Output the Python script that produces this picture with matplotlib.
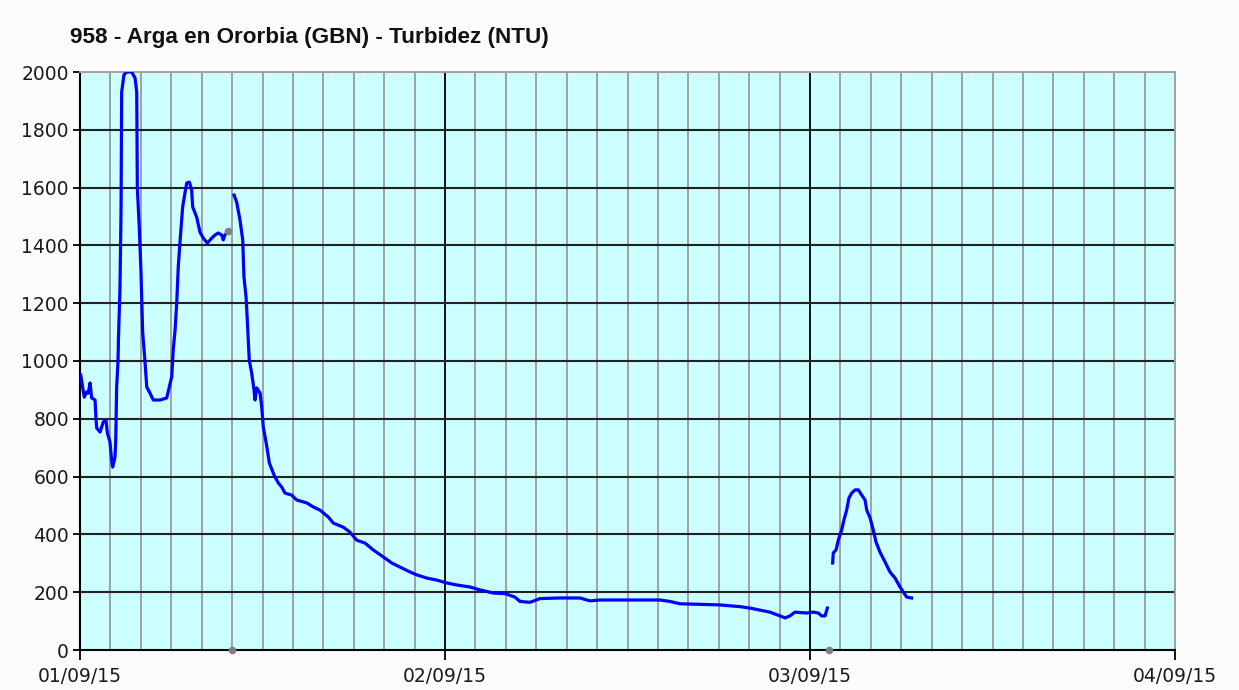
import numpy as np
import pandas as pd
import matplotlib
matplotlib.use("Agg")
import matplotlib.pyplot as plt
import matplotlib.dates as mdates

# Hours after 01/09/15 00:00 and turbidity (NTU).
# The series has gaps, so it is kept as three separate runs.
seg1_hours = [0.05, 0.15, 0.28, 0.44, 0.55, 0.66, 0.77, 0.99, 1.05, 1.10, 1.32,
              1.53, 1.71, 1.80, 1.97, 2.08, 2.15, 2.30, 2.35, 2.41, 2.50, 2.53,
              2.63, 2.70, 2.74, 2.89, 3.07, 3.40, 3.62, 3.73, 3.77, 3.90, 4.01,
              4.12, 4.27, 4.39, 4.60, 4.82, 5.26, 5.70, 5.87, 6.03, 6.13, 6.25,
              6.36, 6.46, 6.57, 6.75, 6.90, 7.02, 7.19, 7.34, 7.41, 7.67, 7.89,
              8.11, 8.37, 8.66, 8.88, 9.09, 9.32, 9.42, 9.53, 9.65]
seg1_ntu = [951, 917, 875, 893, 889, 924, 872, 865, 803, 768, 754,
            789, 796, 751, 720, 657, 633, 668, 727, 910, 1000, 1080,
            1253, 1529, 1931, 1990, 2000, 2000, 1979, 1931, 1599, 1460, 1308,
            1100, 1000, 910, 889, 865, 865, 872, 910, 945, 1038, 1107,
            1200, 1325, 1408, 1533, 1581, 1616, 1619, 1592, 1533, 1498, 1446,
            1425, 1408, 1425, 1436, 1443, 1436, 1419, 1436, 1443]

seg2_hours = [10.13, 10.30, 10.52, 10.70, 10.78, 10.92, 11.00, 11.13, 11.29,
              11.44, 11.51, 11.62, 11.84, 11.95, 12.05, 12.28, 12.45, 12.71,
              12.82, 13.04, 13.26, 13.48, 13.92, 14.25, 14.91, 15.34, 15.78,
              16.33, 16.66, 17.31, 17.75, 18.19, 18.74, 19.29, 19.94, 20.50,
              21.15, 21.70, 22.14, 22.80, 23.45, 24.11, 24.77, 25.64, 26.30,
              27.18, 27.95, 28.60, 28.93, 29.59, 30.25, 31.56, 32.88, 33.53,
              34.19, 36.16, 38.14, 38.79, 39.45, 40.77, 42.08, 43.40, 44.05,
              44.71, 45.37, 46.03, 46.36, 46.68, 47.01, 47.78, 48.21, 48.54,
              48.77, 48.99, 49.14]
seg2_ntu = [1574, 1550, 1488, 1419, 1291, 1221, 1142, 1003, 958,
            900, 865, 907, 889, 841, 772, 705, 647, 612,
            599, 578, 564, 543, 536, 519, 509, 495, 484,
            460, 439, 425, 408, 380, 370, 346, 322, 301,
            284, 270, 260, 249, 242, 232, 225, 218, 208,
            197, 195, 183, 168, 165, 178, 180, 180, 170,
            173, 173, 173, 168, 160, 158, 156, 150, 145,
            138, 131, 118, 111, 118, 131, 128, 131, 128,
            118, 118, 145]

seg3_hours = [49.49, 49.53, 49.71, 49.86, 50.08, 50.23, 50.41, 50.56, 50.74,
              50.96, 51.18, 51.40, 51.62, 51.73, 51.95, 52.16, 52.34, 52.60,
              52.93, 53.26, 53.59, 53.92, 54.13, 54.36, 54.68]
seg3_ntu = [301, 336, 346, 380, 415, 450, 484, 526, 543,
            554, 554, 536, 519, 484, 457, 415, 374, 339,
            305, 270, 249, 218, 201, 183, 180]

# grey flag points (invalid / missing data marks)
flag_hours = [9.75, 10.0, 49.25]
flag_ntu = [1450, 0, 0]

START = pd.Timestamp("2015-09-01")


def to_time(hours):
    return START + pd.to_timedelta(np.asarray(hours), unit="h")


fig = plt.figure(figsize=(12.39, 6.90), dpi=100, facecolor="#fcfcfc")
ax = fig.add_axes([80 / 1239, 40 / 690, 1095 / 1239, 578 / 690])
ax.set_facecolor("#ccffff")

# grid: grey every 2 hours, black at day boundaries and every 200 NTU
for h in range(2, 72, 2):
    colour = "#111111" if h % 24 == 0 else "#a0a0a0"
    ax.axvline(to_time([h])[0], color=colour, linewidth=1.4, zorder=1)
for v in range(200, 2000, 200):
    ax.axhline(v, color="#222222", linewidth=1.5, zorder=1)

for hours, ntu in [(seg1_hours, seg1_ntu), (seg2_hours, seg2_ntu),
                   (seg3_hours, seg3_ntu)]:
    ax.plot(to_time(hours), ntu, color="#0000ff", linewidth=2.3, zorder=3)

ax.scatter(to_time(flag_hours), flag_ntu, s=30, color="#808080",
           zorder=4, clip_on=False, linewidths=0)

ax.set_xlim(to_time([0])[0], to_time([72])[0])
ax.set_ylim(0, 2000)
ax.set_yticks(np.arange(0, 2001, 200))
ax.xaxis.set_major_locator(mdates.DayLocator())
ax.xaxis.set_major_formatter(mdates.DateFormatter("%d/%m/%y"))

for side in ["left", "bottom"]:
    ax.spines[side].set_color("black")
    ax.spines[side].set_linewidth(1.5)
for side in ["top", "right"]:
    ax.spines[side].set_color("#a0a0a0")
    ax.spines[side].set_linewidth(1.4)

ax.tick_params(axis="y", length=5, width=1.3, pad=3, labelsize=13.5,
               colors="black")
ax.tick_params(axis="x", length=7, width=1.3, pad=5, labelsize=13.5,
               colors="black")
for lab in ax.get_xticklabels() + ax.get_yticklabels():
    lab.set_family("DejaVu Sans")
    lab.set_color("#1a1a1a")

fig.text(70 / 1239, 1 - 38 / 690, "958 - Arga en Ororbia (GBN) - Turbidez (NTU)",
         fontsize=16.2, fontweight="bold", family="Liberation Sans",
         ha="left", va="center", color="#111111")

fig.savefig("out.png", dpi=100, facecolor=fig.get_facecolor())
